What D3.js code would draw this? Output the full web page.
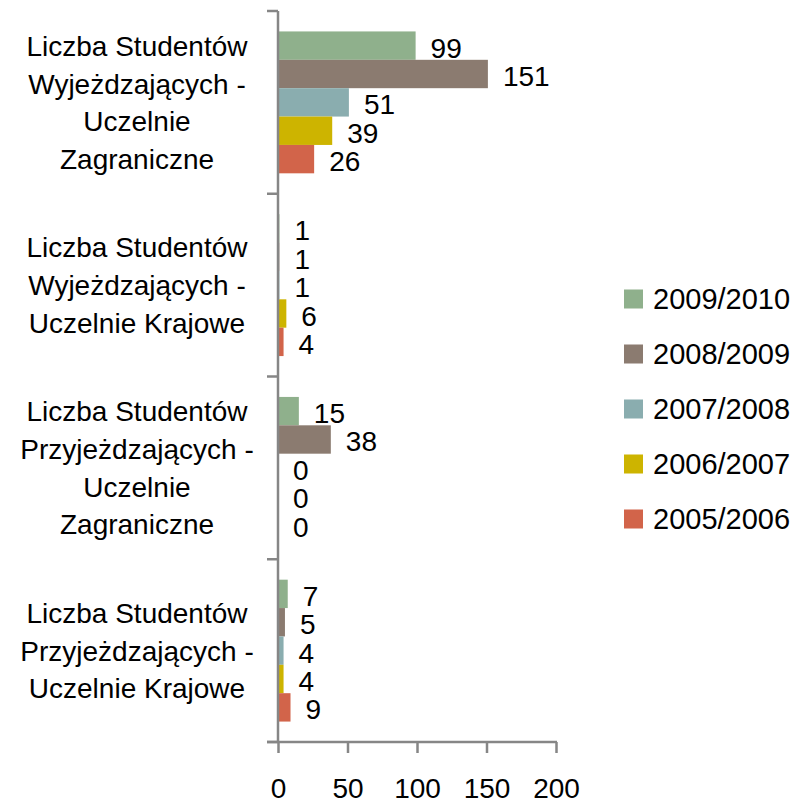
<!DOCTYPE html>
<html>
<head>
<meta charset="utf-8">
<script src="https://cdn.jsdelivr.net/npm/d3@7"></script>
<style>
  body { margin: 0; background: #fff; }
  text { font-family: "Liberation Sans", Arial, sans-serif; fill: #000; }
</style>
</head>
<body>
<div id="chart"></div>
<script>
// Categories (each is a list of label lines, top to bottom)
const categories = [
    ["Liczba Studentów", "Wyjeżdzających -", "Uczelnie", "Zagraniczne"],
    ["Liczba Studentów", "Wyjeżdzających -", "Uczelnie Krajowe"],
    ["Liczba Studentów", "Przyjeżdzających -", "Uczelnie", "Zagraniczne"],
    ["Liczba Studentów", "Przyjeżdzających -", "Uczelnie Krajowe"]
];

// Series, in the order drawn top to bottom within each category
const seriesNames = ["2009/2010", "2008/2009", "2007/2008", "2006/2007", "2005/2006"];
const seriesColors = ["#8fb08c", "#8b7b70", "#8aadaf", "#cdb400", "#d2644a"];

const values2009 = [99, 1, 15, 7];
const values2008 = [151, 1, 38, 5];
const values2007 = [51, 1, 0, 4];
const values2006 = [39, 6, 0, 4];
const values2005 = [26, 4, 0, 9];
const seriesValues = [values2009, values2008, values2007, values2006, values2005];

const xTicks = [0, 50, 100, 150, 200];

const W = 798, H = 805;
const svg = d3.select("#chart").append("svg")
    .attr("width", W)
    .attr("height", H);

// Scales
const x = d3.scaleLinear().domain([0, 200]).range([278, 556]);

const y = d3.scaleBand()
    .domain(d3.range(categories.length))
    .range([11, 742])
    .padding(0);

const ySeries = d3.scaleBand()
    .domain(d3.range(seriesNames.length))
    .range([0, y.bandwidth()])
    .paddingInner(0)
    .paddingOuter(0.72);

// Bars
seriesValues.forEach((vals, s) => {
    svg.append("g")
        .selectAll("rect")
        .data(vals)
        .join("rect")
        .attr("x", x(0))
        .attr("y", (d, i) => y(i) + ySeries(s))
        .attr("width", d => x(d) - x(0))
        .attr("height", ySeries.bandwidth())
        .attr("fill", seriesColors[s]);
});

// Axis lines and ticks
const axisColor = "#868686";

const xAxis = svg.append("g")
    .attr("transform", `translate(0,742)`)
    .call(d3.axisBottom(x).tickValues(xTicks).tickSize(11).tickPadding(25).tickFormat(d3.format("d")));
xAxis.select(".domain").remove();
xAxis.selectAll("line").attr("stroke", axisColor).attr("stroke-width", 2.5);
xAxis.selectAll("text")
    .style("font-size", "28px")
    .style("font-family", "'Liberation Sans', Arial, sans-serif")
    .attr("fill", "#000");
xAxis.append("line")
    .attr("x1", x(0) - 11).attr("x2", x(200) + 1)
    .attr("y1", 0).attr("y2", 0)
    .attr("stroke", axisColor).attr("stroke-width", 2.5);

// vertical axis with ticks at category boundaries
const bounds = d3.range(categories.length + 1).map(i => i < categories.length ? y(i) : y.range()[1]);
svg.append("line")
    .attr("x1", x(0)).attr("x2", x(0))
    .attr("y1", bounds[0]).attr("y2", y.range()[1])
    .attr("stroke", axisColor).attr("stroke-width", 2.5);
svg.append("g")
    .selectAll("line")
    .data(bounds)
    .join("line")
    .attr("x1", x(0) - 11).attr("x2", x(0))
    .attr("y1", d => d).attr("y2", d => d)
    .attr("stroke", axisColor).attr("stroke-width", 2.5);

// Data labels
seriesValues.forEach((vals, s) => {
    svg.append("g")
        .selectAll("text")
        .data(vals)
        .join("text")
        .attr("x", d => x(d) + 15)
        .attr("y", (d, i) => y(i) + ySeries(s) + ySeries.bandwidth() / 2 + 12)
        .style("font-size", "28px")
        .text(d => d);
});

// Category labels
const lineH = 37.7;
categories.forEach((lines, i) => {
    const cy = y(i) + y.bandwidth() / 2;
    const t = svg.append("text")
        .attr("text-anchor", "middle")
        .style("font-size", "28px");
    lines.forEach((ln, j) => {
        t.append("tspan")
            .attr("x", 137)
            .attr("y", cy + (j - (lines.length - 1) / 2) * lineH + 10)
            .text(ln);
    });
});

// Legend
const legend = svg.append("g");
seriesNames.forEach((name, s) => {
    const cy = 299 + s * 55;
    legend.append("rect")
        .attr("x", 624).attr("y", cy - 9.5)
        .attr("width", 19).attr("height", 19)
        .attr("fill", seriesColors[s]);
    legend.append("text")
        .attr("x", 653).attr("y", cy + 10)
        .style("font-size", "29px")
        .text(name);
});
</script>
</body>
</html>
